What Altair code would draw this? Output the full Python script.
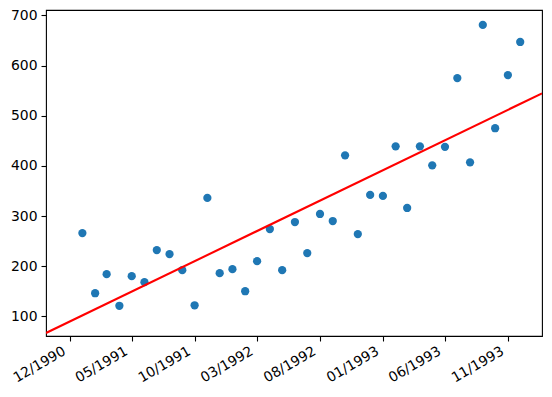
import altair as alt
import numpy as np
import pandas as pd

months = pd.date_range("1991-01-01", periods=36, freq="MS")
values = [266, 146, 184, 121, 180, 168, 232, 224, 192, 122, 336, 186,
          194, 150, 210, 274, 192, 288, 226, 304, 290, 421, 264, 342,
          340, 439, 316, 439, 401, 438, 575, 407, 681, 475, 581, 647]
tick_dates = ["1990-12-01", "1991-05-01", "1991-10-01", "1992-03-01",
              "1992-08-01", "1993-01-01", "1993-06-01", "1993-11-01"]
y_ticks = [100, 200, 300, 400, 500, 600, 700]
x_domain = ["1990-10-04T12:00:00", "1994-01-23T00:00:00"]
y_domain = [60.7, 710.8]

df = pd.DataFrame({"date": months.strftime("%Y-%m-%d"), "value": values})

# least-squares fit on day numbers
days = (months - pd.Timestamp("1970-01-01")).days.values.astype(float)
slope, intercept = np.polyfit(days, np.array(values, dtype=float), 1)
ends = pd.to_datetime(x_domain)
end_days = (ends - pd.Timestamp("1970-01-01")).total_seconds().values / 86400.0
line_df = pd.DataFrame({"date": [e.strftime("%Y-%m-%dT%H:%M:%S") for e in ends],
                        "value": slope * end_days + intercept})

def dt(s):
    t = pd.Timestamp(s)
    return alt.DateTime(year=t.year, month=t.month, date=t.day, hours=t.hour, utc=True)

xscale = alt.Scale(type="utc", domain=[dt(s) for s in x_domain], nice=False)
yscale = alt.Scale(domain=y_domain, nice=False, zero=False)

xaxis = alt.Axis(values=[dt(s) for s in tick_dates], format="%m/%Y", title=None,
                 labelAngle=-30, labelAlign="right", labelBaseline="bottom",
                 grid=False, domain=False, tickColor="black", tickSize=5,
                 tickWidth=1.1, labelPadding=15, labelOffset=-2,
                 labelFont="DejaVu Sans", labelFontSize=13.9, labelColor="black",
                 labelOverlap=False)
yaxis = alt.Axis(values=y_ticks, title=None, grid=False, domain=False,
                 tickColor="black", tickSize=5, tickWidth=1.1, labelPadding=4,
                 labelFont="DejaVu Sans", labelFontSize=13.9, labelColor="black")

points = alt.Chart(df).mark_circle(color="#1f77b4", size=68, opacity=1).encode(
    x=alt.X("date:T", scale=xscale, axis=xaxis),
    y=alt.Y("value:Q", scale=yscale, axis=yaxis),
)
line = alt.Chart(line_df).mark_line(color="red", strokeWidth=2.1, clip=True).encode(
    x=alt.X("date:T", scale=xscale),
    y=alt.Y("value:Q", scale=yscale),
)

chart = alt.layer(points, line).properties(
    width=496, height=326,
    autosize=alt.AutoSizeParams(type="none"),
    padding={"left": 38, "top": 2, "right": 2, "bottom": 53},
).configure(
    background="white",
    view=alt.ViewConfig(stroke="black", strokeWidth=1.1),
)

chart.save("out.html", embed_options={"renderer": "svg", "actions": False})
